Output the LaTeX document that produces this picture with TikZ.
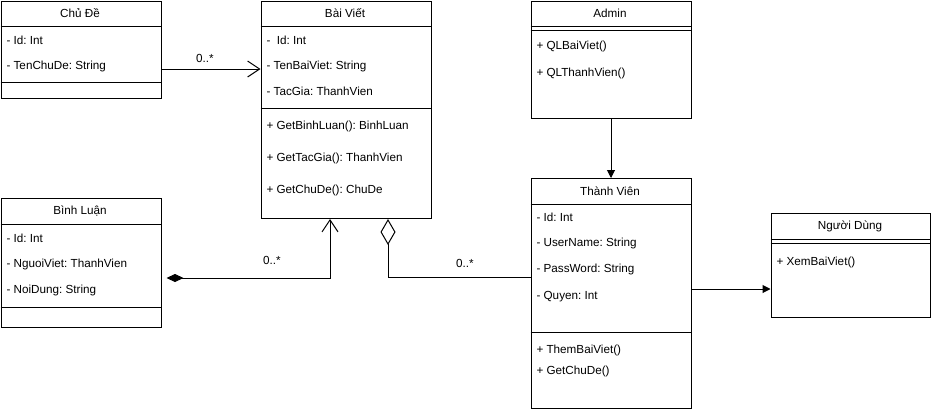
\documentclass[tikz,border=0pt]{standalone}
\usepackage{fontspec}
\setmainfont{Liberation Sans}
\usetikzlibrary{arrows.meta, positioning}
\frenchspacing

\begin{document}
\begin{tikzpicture}[
  x=1pt, y=-1pt, line width=1pt,
  font=\fontsize{11.7}{14}\selectfont,
  cls/.style={draw, anchor=north west, inner sep=0pt},
  ttl/.style={anchor=center, inner sep=0pt},
  mem/.style={anchor=west, inner sep=0pt},
  mult/.style={anchor=center, inner sep=0pt},
  assoc/.style={-{Straight Barb[length=12pt, width=16pt]}},
  gen/.style={-{Triangle[length=8pt, width=8pt]}}
]
  \useasboundingbox (0,0) rectangle (932,410);

  % Chu De
  \node[cls, minimum width=160pt, minimum height=97pt] (chude) at (0.5,1) {};
  \draw (chude.north west) ++(0,25) -- ++(160,0);
  \draw (chude.north west) ++(0,81) -- ++(160,0);
  \node[ttl] (chude-t) at (80,13) {Chủ Đề};
  \node[mem] (chude-a1) at (6,40) {- Id: Int};
  \node[mem] (chude-a2) at (6,66) {- TenChuDe: String};

  % Bai Viet
  \node[cls, minimum width=170pt, minimum height=217pt] (baiviet) at (260.5,1) {};
  \draw (baiviet.north west) ++(0,25) -- ++(170,0);
  \draw (baiviet.north west) ++(0,107) -- ++(170,0);
  \node[ttl] (baiviet-t) at (345,13) {Bài Viết};
  \node[mem] (baiviet-a1) at (266,40) {-\ \ Id: Int};
  \node[mem] (baiviet-a2) at (266,66) {- TenBaiViet: String};
  \node[mem] (baiviet-a3) at (266,91) {- TacGia: ThanhVien};
  \node[mem] (baiviet-m1) at (266,126) {+ GetBinhLuan(): BinhLuan};
  \node[mem] (baiviet-m2) at (266,158) {+ GetTacGia(): ThanhVien};
  \node[mem] (baiviet-m3) at (266,190) {+ GetChuDe(): ChuDe};

  % Binh Luan
  \node[cls, minimum width=160pt, minimum height=129pt] (binhluan) at (0.5,198) {};
  \draw (binhluan.north west) ++(0,26) -- ++(160,0);
  \draw (binhluan.north west) ++(0,109) -- ++(160,0);
  \node[ttl] (binhluan-t) at (80,211) {Bình Luận};
  \node[mem] (binhluan-a1) at (6,238) {- Id: Int};
  \node[mem] (binhluan-a2) at (6,264) {- NguoiViet: ThanhVien};
  \node[mem] (binhluan-a3) at (6,290) {- NoiDung: String};

  % Admin
  \node[cls, minimum width=160pt, minimum height=117pt] (admin) at (530.5,1) {};
  \draw (admin.north west) ++(0,25) -- ++(160,0);
  \draw (admin.north west) ++(0,29) -- ++(160,0);
  \node[ttl] (admin-t) at (610,13) {Admin};
  \node[mem] (admin-m1) at (536,46) {+ QLBaiViet()};
  \node[mem] (admin-m2) at (536,73) {+ QLThanhVien()};

  % Thanh Vien
  \node[cls, minimum width=160pt, minimum height=230pt] (thanhvien) at (530.5,178) {};
  \draw (thanhvien.north west) ++(0,26) -- ++(160,0);
  \draw (thanhvien.north west) ++(0,154) -- ++(160,0);
  \node[ttl] (thanhvien-t) at (610,191) {Thành Viên};
  \node[mem] (thanhvien-a1) at (536,217) {- Id: Int};
  \node[mem] (thanhvien-a2) at (536,243) {- UserName: String};
  \node[mem] (thanhvien-a3) at (536,269) {- PassWord: String};
  \node[mem] (thanhvien-a4) at (536,297) {- Quyen: Int};
  \node[mem] (thanhvien-m1) at (536,350) {+ ThemBaiViet()};
  \node[mem] (thanhvien-m2) at (536,371) {+ GetChuDe()};

  % Nguoi Dung
  \node[cls, minimum width=159pt, minimum height=104pt] (nguoidung) at (770.5,213) {};
  \draw (nguoidung.north west) ++(0,26) -- ++(159,0);
  \draw (nguoidung.north west) ++(0,30) -- ++(159,0);
  \node[ttl] (nguoidung-t) at (850,226) {Người Dùng};
  \node[mem] (nguoidung-m1) at (776,262) {+ XemBaiViet()};

  % connectors
  \coordinate (r1) at (0,69);
  \coordinate (r2) at (330,278);
  \coordinate (r3) at (388,277);
  \coordinate (r4) at (0,289);

  \draw[assoc] (chude.east |- r1) -- (baiviet.west |- r1);
  \node[mult] (m1) at (205,58) {0..*};

  \draw[{Diamond[length=17pt, width=8pt]}-{Straight Barb[length=12pt, width=16pt]}]
    ([xshift=5pt]binhluan.east |- r2) -- (r2) -- (baiviet.south -| r2);
  \node[mult] (m2) at (272,260) {0..*};

  \draw[{Diamond[open, length=26pt, width=15pt]}-] (baiviet.south -| r3) |- (thanhvien.west |- r3);
  \node[mult] (m3) at (465,263) {0..*};

  \draw[gen] (admin.south) -- (thanhvien.north);
  \draw[gen] (thanhvien.east |- r4) -- (nguoidung.west |- r4);
\end{tikzpicture}
\end{document}
